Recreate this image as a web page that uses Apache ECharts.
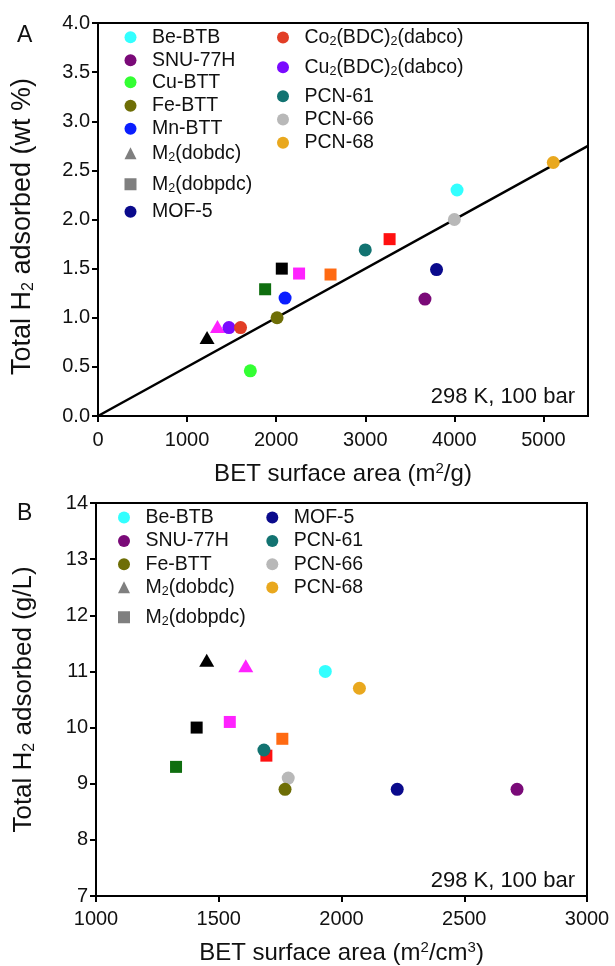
<!DOCTYPE html>
<html><head><meta charset="utf-8">
<script src="https://cdn.jsdelivr.net/npm/echarts@6/dist/echarts.min.js"></script>
<style>html,body{margin:0;padding:0;background:#fff}#c{width:615px;height:966px}</style>
</head><body><div id="c"></div>
<script>
// ================= DATA =================
// Panel A: gravimetric uptake vs BET (m2/g)
const xTicksA = [0, 1000, 2000, 3000, 4000, 5000];
const yTicksA = [0, 0.5, 1.0, 1.5, 2.0, 2.5, 3.0, 3.5, 4.0];
const circleNamesA = ['Be-BTB', 'SNU-77H', 'Cu-BTT', 'PCN-66', 'Fe-BTT', 'Mn-BTT', 'MOF-5', 'Cu2(BDC)2(dabco)', 'Co2(BDC)2(dabco)', 'PCN-61', 'PCN-68'];
const circleXA = [4030, 3670, 1710, 4000, 2010, 2100, 3800, 1470, 1600, 3000, 5110];
const circleYA = [2.30, 1.19, 0.46, 2.00, 1.00, 1.20, 1.49, 0.90, 0.90, 1.69, 2.58];
const triXA = [1224, 1341];
const triYA = [0.80, 0.91];
const sqXA = [2063, 2257, 2610, 3273, 1876];
const sqYA = [1.50, 1.45, 1.44, 1.80, 1.29];
const fitX = [0, 5500];
const fitY = [0, 2.75];
// Panel B: volumetric uptake vs BET (m2/cm3)
const xTicksB = [1000, 1500, 2000, 2500, 3000];
const yTicksB = [7, 8, 9, 10, 11, 12, 13, 14];
const circleNamesB = ['Be-BTB', 'SNU-77H', 'PCN-66', 'Fe-BTT', 'MOF-5', 'PCN-61', 'PCN-68'];
const circleXB = [1934, 2715, 1783, 1770, 2227, 1684, 2073];
const circleYB = [11.0, 8.9, 9.1, 8.9, 8.9, 9.6, 10.7];
const triXB = [1451, 1610];
const triYB = [11.2, 11.1];
const sqXB = [1410, 1545, 1759, 1694, 1326];
const sqYB = [10.0, 10.1, 9.8, 9.5, 9.3];
// Legend entries
const legendA1 = ['Be-BTB', 'SNU-77H', 'Cu-BTT', 'Fe-BTT', 'Mn-BTT', 'M2(dobdc)', 'M2(dobpdc)', 'MOF-5'];
const legendA2 = ['Co2(BDC)2(dabco)', 'Cu2(BDC)2(dabco)', 'PCN-61', 'PCN-66', 'PCN-68'];
const legendB1 = ['Be-BTB', 'SNU-77H', 'Fe-BTT', 'M2(dobdc)', 'M2(dobpdc)'];
const legendB2 = ['MOF-5', 'PCN-61', 'PCN-66', 'PCN-68'];

// ================= STYLE =================
const FONT = 'Liberation Sans, Arial, Helvetica, sans-serif';
const TXT = '#111';
const colorOf = {
  'Be-BTB': '#33FFFF', 'SNU-77H': '#7A0A78', 'Cu-BTT': '#33FF33', 'Fe-BTT': '#6E6E06',
  'Mn-BTT': '#0A1EFF', 'MOF-5': '#0A0A8C', 'Co2(BDC)2(dabco)': '#E23E26',
  'Cu2(BDC)2(dabco)': '#7A0AFF', 'PCN-61': '#127371', 'PCN-66': '#B8B8B8', 'PCN-68': '#E9A81E',
  'M2(dobdc)': '#7F7F7F', 'M2(dobpdc)': '#7F7F7F'
};
const triColors = ['#000000', '#FF22FF'];
const sqColors = ['#000000', '#FF22FF', '#FF6A12', '#FF1010', '#0F6E0F'];
const richLabel = {
  'M2(dobdc)': '{n|M}{s|2}{n|(dobdc)}',
  'M2(dobpdc)': '{n|M}{s|2}{n|(dobpdc)}',
  'Co2(BDC)2(dabco)': '{n|Co}{s|2}{n|(BDC)}{s|2}{n|(dabco)}',
  'Cu2(BDC)2(dabco)': '{n|Cu}{s|2}{n|(BDC)}{s|2}{n|(dabco)}'
};
function rich(fs, subFs) {
  const L = fs + 2, l = L - 0.6 * fs;
  return {
    n: { fontSize: fs, fontFamily: FONT, color: TXT, lineHeight: L, verticalAlign: 'middle' },
    s: { fontSize: subFs, fontFamily: FONT, color: TXT, lineHeight: l, verticalAlign: 'bottom' },
    p: { fontSize: subFs, fontFamily: FONT, color: TXT, lineHeight: l, verticalAlign: 'top' },
    g: { width: 10.5, fontSize: fs, lineHeight: L }
  };
}
// legend layout (icon centre x, y)
const legPosA1 = { x: 130.5, y: [38, 61, 83, 106.5, 129.5, 154, 185, 212.5] };
const legPosA2 = { x: 283, y: [38.3, 68, 97, 120.3, 143.5] };
const legPosB1 = { x: 124, y: [518.3, 541.7, 565, 588, 618] };
const legPosB2 = { x: 272.3, y: [518.3, 541.7, 565, 588.3] };

const LEG_FS = 19.5, LEG_W = 12, LEG_H = 12;
const legends = [];
function addLegends(names, pos) {
  names.forEach((nm, i) => {
    legends.push({
      data: [nm], orient: 'vertical', padding: 0, selectedMode: false,
      left: pos.x - LEG_W / 2, top: pos.y[i] - (LEG_FS + 2) / 2,
      itemWidth: LEG_W, itemHeight: LEG_H,
      formatter: n => '{g|\u00a0}' + (richLabel[n] || ('{n|' + n + '}')),
      textStyle: { fontSize: LEG_FS, fontFamily: FONT, color: TXT, rich: rich(LEG_FS, 12.5) }
    });
  });
}
addLegends(legendA1, legPosA1);
addLegends(legendA2, legPosA2);
addLegends(legendB1, legPosB1);
addLegends(legendB2, legPosB2);

const CIRCLE = 13, SQ = 12, TRI = [15, 13];
const series = [];
function addPanel(gi, triX, triY, sqX, sqY, cNames, cX, cY) {
  series.push({
    name: 'M2(dobdc)', type: 'scatter', xAxisIndex: gi, yAxisIndex: gi,
    symbol: 'triangle', symbolSize: TRI, itemStyle: { color: colorOf['M2(dobdc)'], opacity: 1 },
    data: triX.map((x, i) => ({ value: [x, triY[i]], itemStyle: { color: triColors[i] } })), z: 3
  });
  series.push({
    name: 'M2(dobpdc)', type: 'scatter', xAxisIndex: gi, yAxisIndex: gi,
    symbol: 'rect', symbolSize: SQ, itemStyle: { color: colorOf['M2(dobpdc)'], opacity: 1 },
    data: sqX.map((x, i) => ({ value: [x, sqY[i]], itemStyle: { color: sqColors[i] } })), z: 3
  });
  cNames.forEach((nm, i) => {
    series.push({
      name: nm, type: 'scatter', xAxisIndex: gi, yAxisIndex: gi,
      symbol: 'circle', symbolSize: CIRCLE, itemStyle: { color: colorOf[nm], opacity: 1 },
      data: [[cX[i], cY[i]]], z: 4 + i * 0.01
    });
  });
}
addPanel(0, triXA, triYA, sqXA, sqYA, circleNamesA, circleXA, circleYA);
addPanel(1, triXB, triYB, sqXB, sqYB, circleNamesB, circleXB, circleYB);
series.unshift({
  name: 'fit', type: 'line', xAxisIndex: 0, yAxisIndex: 0, symbol: 'none',
  lineStyle: { color: '#000', width: 2.5 }, data: fitX.map((x, i) => [x, fitY[i]]), z: 2, silent: true
});

function xAxis(gi, min, max, interval, ticks, nameRich, gap, margin) {
  return {
    gridIndex: gi, type: 'value', min, max, interval,
    axisLine: { show: true, onZero: false, lineStyle: { color: '#000', width: 2 } },
    axisTick: { show: true, length: 6, inside: false, customValues: ticks, lineStyle: { color: '#000', width: 2 } },
    axisLabel: { show: true, customValues: ticks, formatter: v => String(v), fontSize: 20, fontFamily: FONT, color: TXT, margin },
    splitLine: { show: false },
    name: nameRich, nameLocation: 'middle', nameGap: gap,
    nameTextStyle: { fontSize: 24, fontFamily: FONT, color: TXT, rich: rich(24, 15) }
  };
}
function yAxis(gi, min, max, interval, ticks, fmt, nameRich, gap, fs, pad) {
  return {
    gridIndex: gi, type: 'value', min, max, interval,
    axisLine: { show: true, onZero: false, lineStyle: { color: '#000', width: 2 } },
    axisTick: { show: true, length: 6, inside: false, customValues: ticks, lineStyle: { color: '#000', width: 2 } },
    axisLabel: { show: true, customValues: ticks, formatter: fmt, fontSize: 20, fontFamily: FONT, color: TXT, margin: 8 },
    splitLine: { show: false },
    name: nameRich, nameLocation: 'middle', nameGap: gap, nameRotate: 90,
    nameTextStyle: { fontSize: fs, fontFamily: FONT, color: TXT, padding: pad, rich: rich(fs, Math.round(fs * 0.6)) }
  };
}

const option = {
  animation: false,
  backgroundColor: '#fff',
  grid: [
    { left: 98, top: 23, width: 490, height: 393, show: true, borderColor: '#000', borderWidth: 2, backgroundColor: 'transparent' },
    { left: 96, top: 503, width: 491, height: 395, show: true, borderColor: '#000', borderWidth: 2, backgroundColor: 'transparent' }
  ],
  xAxis: [
    xAxis(0, 0, 5500, 1000, xTicksA, '{n|BET surface area (m}{p|2}{n|/g)}', 45, 14),
    xAxis(1, 1000, 3000, 500, xTicksB, '{n|BET surface area (m}{p|2}{n|/cm}{p|3}{n|)}', 44, 13)
  ],
  yAxis: [
    yAxis(0, 0, 4, 0.5, yTicksA, v => v.toFixed(1), '{n|Total H}{s|2}{n| adsorbed (wt %)}', 61, 27, [0, 14, 0, 0]),
    yAxis(1, 7, 14, 1, yTicksB, v => String(v), '{n|Total H}{s|2}{n| adsorbed (g/L)}', 58, 26, 0)
  ],
  legend: legends,
  series,
  graphic: [
    { type: 'text', left: 17, top: 24, style: { text: 'A', fontSize: 23, fontFamily: FONT, fill: TXT } },
    { type: 'text', left: 17, top: 502, style: { text: 'B', fontSize: 23, fontFamily: FONT, fill: TXT } },
    { type: 'text', right: 615 - 575, top: 386, style: { text: '298 K, 100 bar', fontSize: 22, fontFamily: FONT, fill: TXT } },
    { type: 'text', right: 615 - 575, top: 870, style: { text: '298 K, 100 bar', fontSize: 22, fontFamily: FONT, fill: TXT } }
  ]
};
const chart = echarts.init(document.getElementById('c'), null, { renderer: 'canvas' });
chart.setOption(option);
</script></body></html>
